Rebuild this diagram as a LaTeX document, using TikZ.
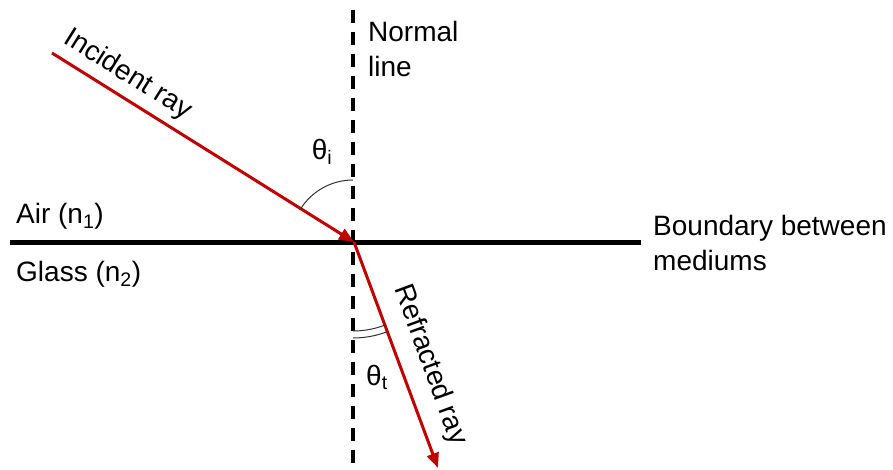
\documentclass[tikz,border=0pt]{standalone}
\usepackage{fontspec}
\setmainfont{Liberation Sans}
\usetikzlibrary{arrows.meta}
\definecolor{rayred}{RGB}{192,0,0}
\tikzset{
  ray/.style={draw=rayred, line width=3pt, -{Triangle[length=15pt,width=12pt]}},
  lbl/.style={font=\fontsize{28}{35}\selectfont, inner sep=0pt, align=left},
  anglearc/.style={draw=black!80, line width=1pt}
}
\begin{document}
\begin{tikzpicture}[x=1pt,y=-1pt]
\useasboundingbox (0,0) rectangle (893,470);
\coordinate (O) at (354,242);
\coordinate (nTop) at (353,10);
\coordinate (nBot) at (353,470);
\coordinate (bL) at (10,242);
\coordinate (bR) at (641,242);
\coordinate (inS) at (52,53);
\coordinate (refE) at (438,468);
% normal line
\draw[line width=3.2pt, dash pattern=on 13pt off 9pt] (nTop) -- (nBot);
% boundary
\draw[line width=5pt] (bL) -- (bR);
% rays
\draw[ray] (inS) -- (O);
\draw[ray] (O) -- (refE);
% angle arcs
\draw[anglearc] (353,180) arc[start angle=-90, end angle=-148, radius=62];
\draw[anglearc] (353,331) arc[start angle=90, end angle=69, radius=89];
\draw[anglearc] (353,338) arc[start angle=90, end angle=69, radius=96];
% labels
\node[lbl] (thi) at (322,152) {θ\textsubscript{i}};
\node[lbl] (tht) at (377,377) {θ\textsubscript{t}};
\node[lbl, rotate=-32] (inc) at (128,75) {Incident ray};
\node[lbl, rotate=-70] (refr) at (430,365) {Refracted ray};
\node[lbl, anchor=north west] (norm) at (368,21) {Normal\\line};
\node[lbl, anchor=west] (air) at (16,216) {Air (n\textsubscript{1})};
\node[lbl, anchor=west] (glass) at (16,274) {Glass (n\textsubscript{2})};
\node[lbl, anchor=north west] (bnd) at (653,215) {Boundary between\\mediums};
\end{tikzpicture}
\end{document}
